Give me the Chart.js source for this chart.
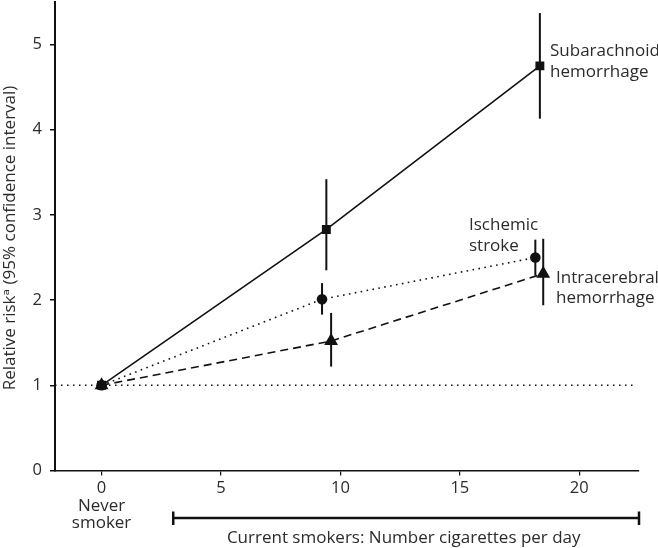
<!DOCTYPE html>
<html>
<head>
<meta charset="utf-8">
<script src="https://cdn.jsdelivr.net/npm/chart.js@4.4.1/dist/chart.umd.min.js"></script>
<style>
html,body{margin:0;padding:0;background:#fff;}
#wrap{width:658px;height:548px;position:relative;}
</style>
</head>
<body>
<div id="wrap"><canvas id="c"></canvas></div>
<script>
// ---- data ----
const xTickValues = [0, 5, 10, 15, 20];
const yTickValues = [0, 1, 2, 3, 4, 5];
const referenceRR = 1;

const sahX  = [0, 9.41, 18.35];
const sahRR = [1, 2.83, 4.75];
const sahLo = [null, 2.35, 4.13];
const sahHi = [null, 3.42, 5.37];

const isX  = [0, 9.23, 18.16];
const isRR = [1, 2.01, 2.50];
const isLo = [null, 1.83, 2.29];
const isHi = [null, 2.20, 2.71];

const ichX  = [0, 9.61, 18.49];
const ichRR = [1, 1.52, 2.31];
const ichLo = [null, 1.22, 1.94];
const ichHi = [null, 1.85, 2.72];

const xMin = -1.95, xMax = 22.5, yMin = 0, yMax = 5.5;
const smokersFrom = 3;

const seriesLabels = {
  sah: ['Subarachnoid', 'hemorrhage'],
  is: ['Ischemic', 'stroke'],
  ich: ['Intracerebral', 'hemorrhage']
};
const yTitle = 'Relative risk\u1d43 (95% confidence interval)';
const neverLabel = ['Never', 'smoker'];
const currentLabel = 'Current smokers: Number cigarettes per day';

// ---- build ----
const pts = (xs, ys) => xs.map((x, i) => ({x: x, y: ys[i]}));
const INK = '#111';
const TXT = '#2b2b2b';
const FONT = '"Open Sans", "DejaVu Sans", sans-serif';

const errorSets = [
  {xs: sahX, lo: sahLo, hi: sahHi},
  {xs: isX, lo: isLo, hi: isHi},
  {xs: ichX, lo: ichLo, hi: ichHi}
];

const extras = {
  id: 'extras',
  afterDatasetsDraw(chart) {
    const ctx = chart.ctx, xs = chart.scales.x, ys = chart.scales.y;
    ctx.save();
    ctx.strokeStyle = INK;
    ctx.lineWidth = 2;
    errorSets.forEach(s => {
      s.xs.forEach((x, i) => {
        if (s.lo[i] == null) return;
        const px = xs.getPixelForValue(x);
        ctx.beginPath();
        ctx.moveTo(px, ys.getPixelForValue(s.lo[i]));
        ctx.lineTo(px, ys.getPixelForValue(s.hi[i]));
        ctx.stroke();
      });
    });
    ctx.restore();
  },
  afterDraw(chart) {
    const ctx = chart.ctx, xs = chart.scales.x, ys = chart.scales.y;
    ctx.save();
    ctx.fillStyle = TXT;
    ctx.font = '17px ' + FONT;
    ctx.textBaseline = 'alphabetic';
    ctx.textAlign = 'left';
    // series labels
    ctx.fillText(seriesLabels.sah[0], 550, 56);
    ctx.fillText(seriesLabels.sah[1], 550, 77);
    ctx.fillText(seriesLabels.is[0], 469, 230);
    ctx.fillText(seriesLabels.is[1], 469, 251);
    ctx.fillText(seriesLabels.ich[0], 556, 283);
    ctx.fillText(seriesLabels.ich[1], 556, 303);
    // never smoker
    ctx.textAlign = 'center';
    const x0 = xs.getPixelForValue(0);
    ctx.fillText(neverLabel[0], x0, 511);
    ctx.fillText(neverLabel[1], x0, 528);
    // bracket
    const bx1 = xs.getPixelForValue(smokersFrom), bx2 = xs.getPixelForValue(xMax);
    ctx.strokeStyle = INK;
    ctx.lineWidth = 2.5;
    ctx.beginPath();
    ctx.moveTo(bx1, 518); ctx.lineTo(bx2, 518);
    ctx.moveTo(bx1, 511.5); ctx.lineTo(bx1, 525);
    ctx.moveTo(bx2, 511.5); ctx.lineTo(bx2, 525);
    ctx.stroke();
    ctx.fillText(currentLabel, (xs.getPixelForValue(5.5) + xs.getPixelForValue(19.8)) / 2, 543);
    // y title
    ctx.translate(15, 238);
    ctx.rotate(-Math.PI / 2);
    ctx.textAlign = 'center';
    ctx.fillText(yTitle, 0, 0);
    ctx.restore();
  }
};

new Chart(document.getElementById('c'), {
  type: 'scatter',
  data: {
    datasets: [
      {
        label: 'ref',
        data: [{x: xMin, y: referenceRR}, {x: 22.35, y: referenceRR}],
        showLine: true, borderColor: INK, borderWidth: 1.5, borderDash: [1.5, 4.5],
        pointRadius: 0, order: 5
      },
      {
        label: 'Subarachnoid hemorrhage',
        data: pts(sahX, sahRR),
        showLine: true, borderColor: INK, borderWidth: 1.6,
        pointStyle: 'rect', pointRadius: 6.3, backgroundColor: INK, pointBorderWidth: 0, order: 3
      },
      {
        label: 'Ischemic stroke',
        data: pts(isX, isRR),
        showLine: true, borderColor: INK, borderWidth: 1.6, borderDash: [1.6, 4.4],
        pointStyle: 'circle', pointRadius: 5.3, backgroundColor: INK, pointBorderWidth: 0, order: 2
      },
      {
        label: 'Intracerebral hemorrhage',
        data: pts(ichX, ichRR),
        showLine: true, borderColor: INK, borderWidth: 1.6, borderDash: [8, 5],
        pointStyle: 'triangle', pointRadius: 8, backgroundColor: INK, pointBorderWidth: 0, order: 1
      }
    ]
  },
  options: {
    responsive: true,
    maintainAspectRatio: false,
    animation: false,
    devicePixelRatio: 1,
    layout: {autoPadding: false, padding: {left: 0, right: 19, top: 2, bottom: 0}},
    plugins: {legend: {display: false}, tooltip: {enabled: false}},
    elements: {line: {tension: 0}},
    scales: {
      x: {
        type: 'linear', min: xMin, max: xMax,
        afterBuildTicks: s => { s.ticks = xTickValues.map(v => ({value: v})); },
        afterFit: s => { s.height = 77.5; s.paddingLeft = 0; s.paddingRight = 0; },
        grid: {display: true, drawOnChartArea: false, drawTicks: true, tickLength: 5, color: INK, lineWidth: 1.2},
        border: {display: true, color: INK, width: 1.5},
        ticks: {color: TXT, font: {family: FONT, size: 16.5}, padding: 3, maxRotation: 0}
      },
      y: {
        type: 'linear', min: yMin, max: yMax,
        afterBuildTicks: s => { s.ticks = yTickValues.map(v => ({value: v})); },
        afterFit: s => { s.width = 55; s.paddingTop = 0; s.paddingBottom = 0; },
        grid: {display: true, drawOnChartArea: false, drawTicks: true, tickLength: 5, color: INK, lineWidth: 1.5},
        border: {display: true, color: INK, width: 2},
        ticks: {color: TXT, font: {family: FONT, size: 16.5}, padding: 8}
      }
    }
  },
  plugins: [extras]
});
</script>
</body>
</html>
